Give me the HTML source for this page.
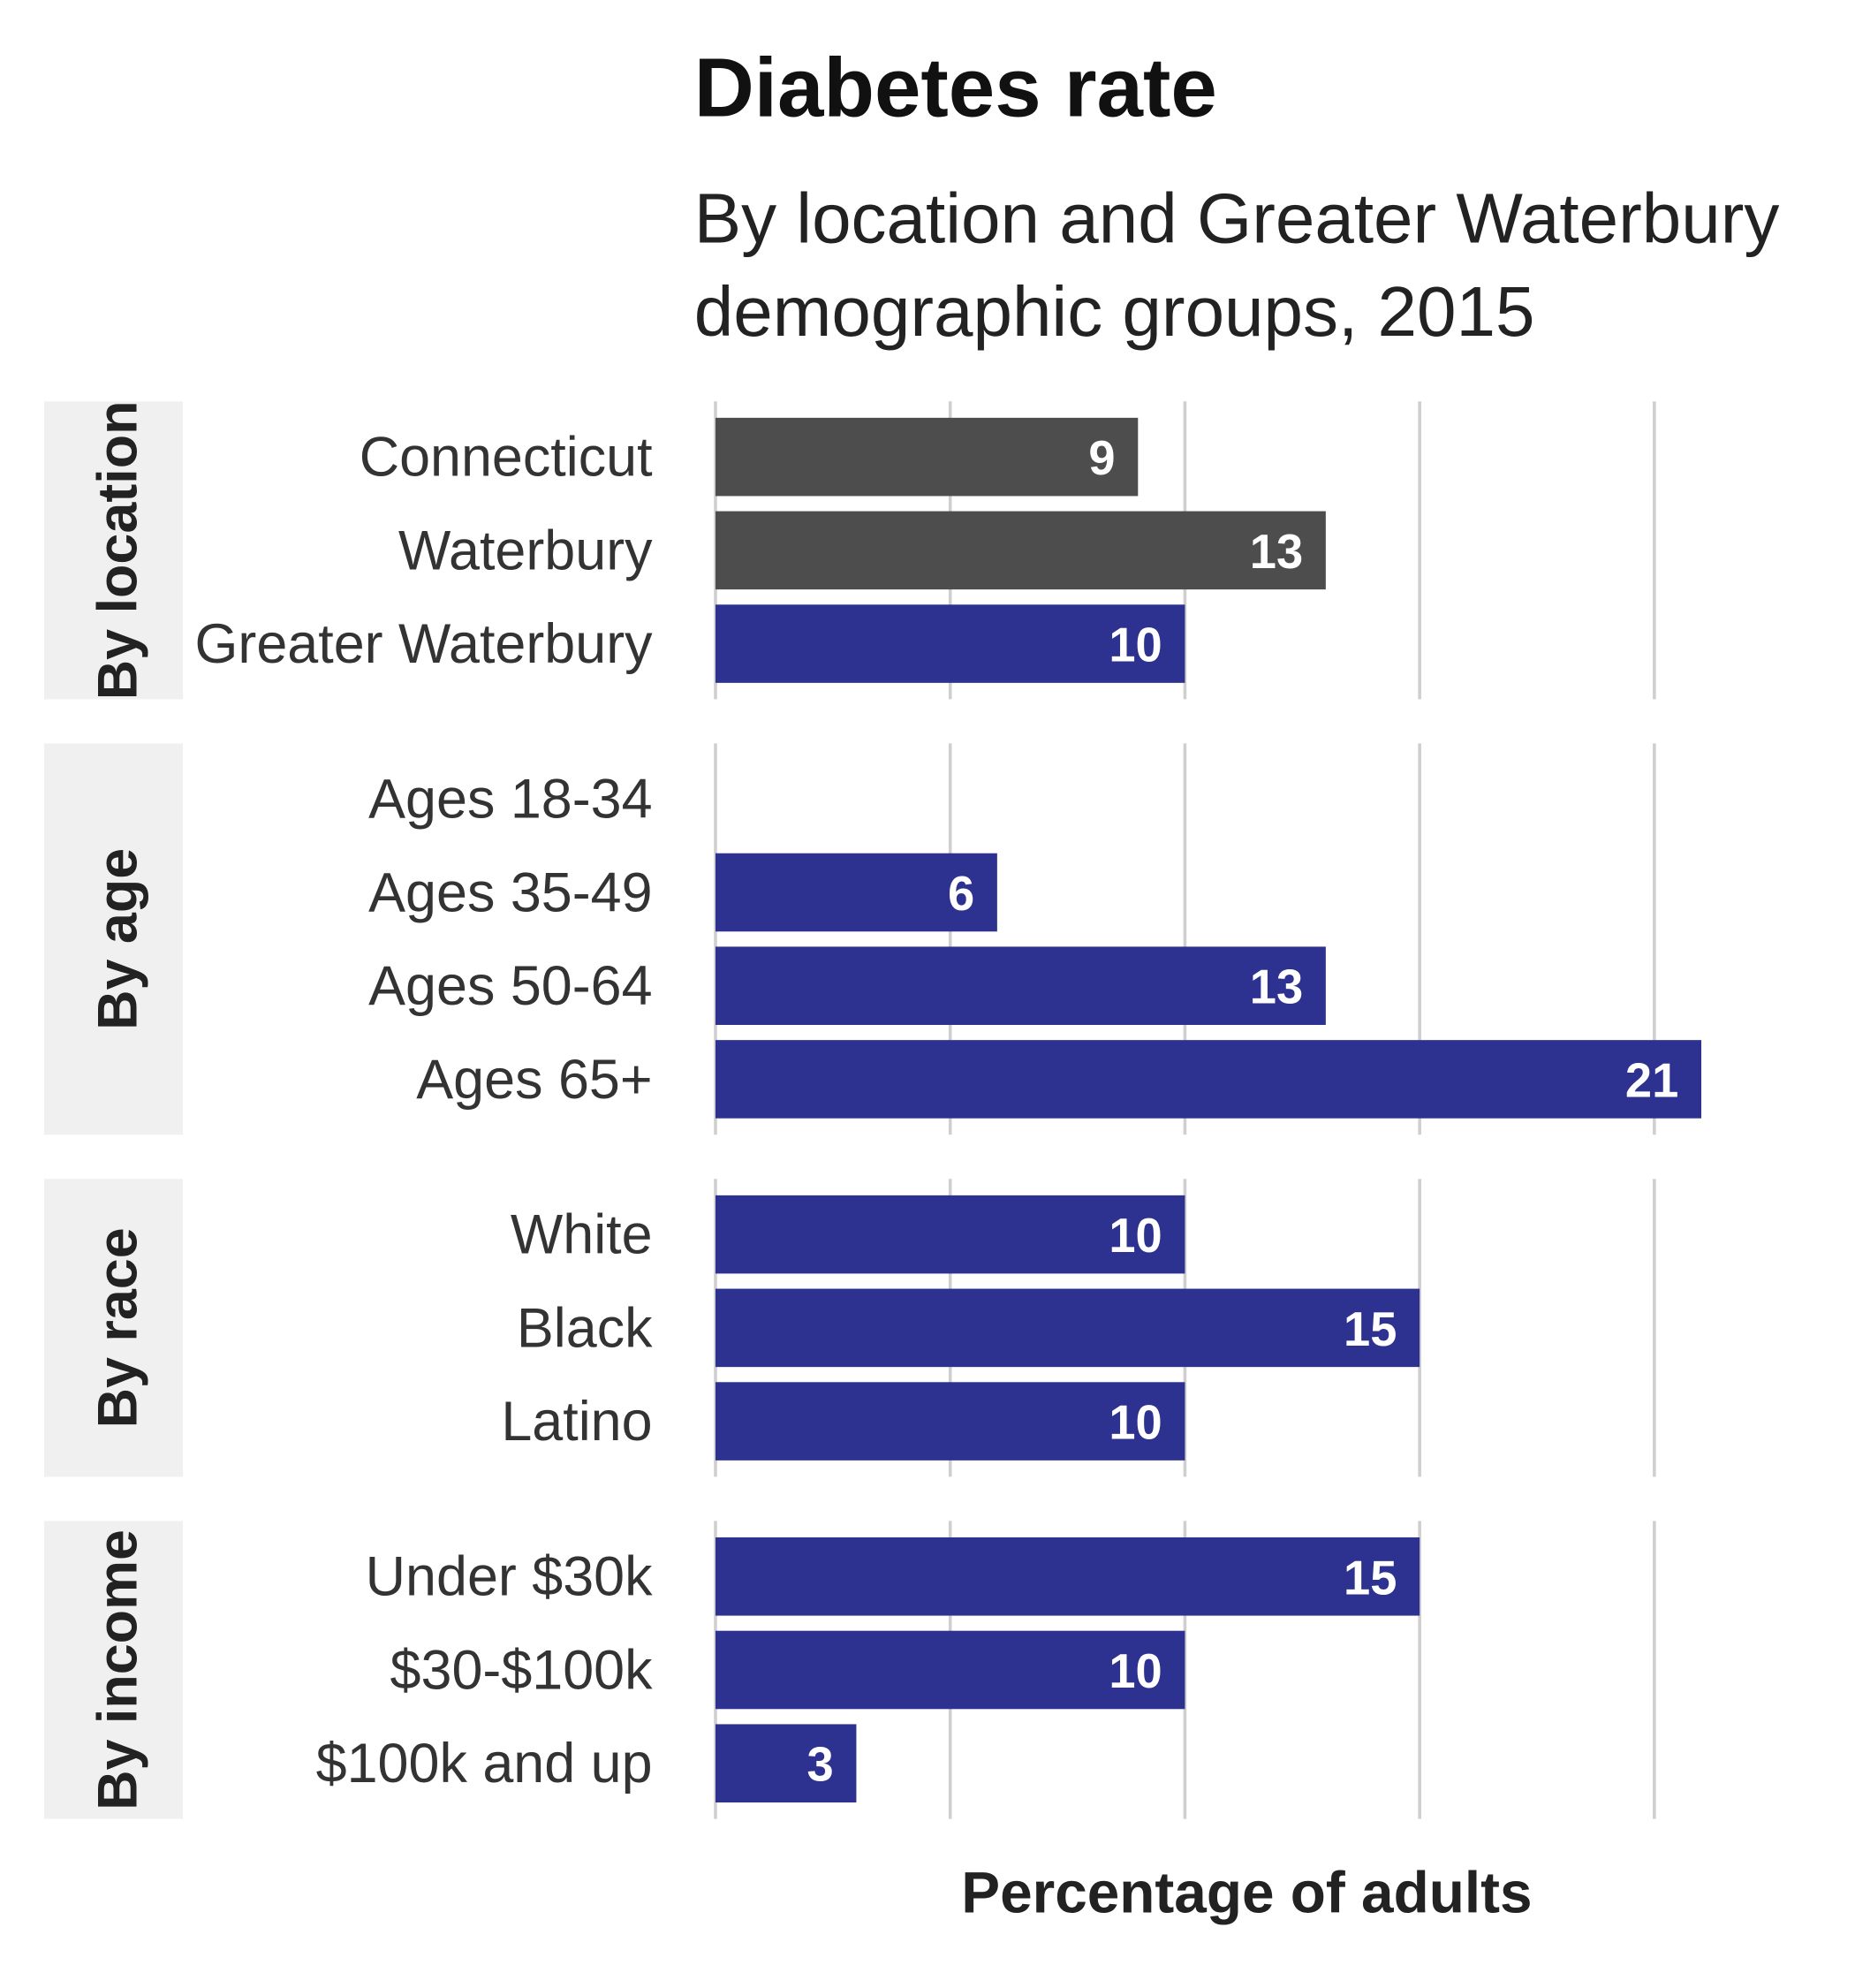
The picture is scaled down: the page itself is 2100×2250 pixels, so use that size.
<!DOCTYPE html>
<html><head><meta charset="utf-8"><style>
html,body{margin:0;padding:0;background:#fff;overflow:hidden;width:2100px;height:2250px;}
svg{display:block;}
text{font-family:"Liberation Sans Narrow","Liberation Sans",sans-serif;}
</style></head><body>
<svg id="chart" width="2100" height="2250" viewBox="0 0 1470 1575" xmlns="http://www.w3.org/2000/svg">
<text x="550" y="92" font-size="66" font-weight="bold" fill="#111">Diabetes rate</text>
<text x="550" y="192" font-size="56" fill="#222">By location and Greater Waterbury</text>
<text x="550" y="266" font-size="56" fill="#222">demographic groups, 2015</text>
<g id="plot"></g>
<text x="988" y="1515" font-size="46" font-weight="bold" fill="#222" text-anchor="middle">Percentage of adults</text>
</svg>
<script>
const panels = ["By location","By age","By race","By income"];
const categories = [
  ["Connecticut","Waterbury","Greater Waterbury"],
  ["Ages 18-34","Ages 35-49","Ages 50-64","Ages 65+"],
  ["White","Black","Latino"],
  ["Under $30k","$30-$100k","$100k and up"]
];
const values = [
  [9,13,10],
  [null,6,13,21],
  [10,15,10],
  [15,10,3]
];
const isGray = [[true,true,false],[false,false,false,false],[false,false,false],[false,false,false]];
const ticks = [0,5,10,15,20];

const ns="http://www.w3.org/2000/svg";
const plotG=document.getElementById('plot');
const x0=567, unit=37.2;
const xs=v=>x0+v*unit;
const step=74, barH=62, pad=13;
let yTop=318;
function mk(tag,attrs){const e=document.createElementNS(ns,tag);for(const k in attrs)e.setAttribute(k,attrs[k]);plotG.appendChild(e);return e;}
panels.forEach((p,pi)=>{
  const n=categories[pi].length;
  const h=pad*2+n*step-12;
  const strip=mk('rect',{x:35,y:yTop,width:110,height:h,fill:'#f0f0f0'});
  
  
  const st=mk('text',{x:0,y:0,'font-size':44,'font-weight':'bold',fill:'#222','text-anchor':'middle',transform:`translate(108,${yTop+h/2}) rotate(-90)`});
  st.textContent=p;
  
  
  ticks.forEach(t=>{
    const l=mk('line',{x1:xs(t),x2:xs(t),y1:yTop,y2:yTop+h,stroke:'#cfcfcf','stroke-width':2.5});
    
    
  });
  categories[pi].forEach((c,ci)=>{
    const y=yTop+pad+ci*step;
    const lab=mk('text',{x:517,y:y+barH/2+15,'font-size':44,fill:'#333','text-anchor':'end'});
    lab.textContent=c;
    
    
    const v=values[pi][ci];
    if(v==null)return;
    const r=mk('rect',{x:xs(0),y:y,width:xs(v)-xs(0),height:barH,fill:isGray[pi][ci]?'#4d4d4d':'#2d3190'});
    
    
    const vt=mk('text',{x:xs(v)-18,y:y+barH/2+14,'font-size':38,'font-weight':'bold',fill:'#fff','text-anchor':'end'});
    vt.textContent=v;
    
    
  });
  yTop+=h+35;
});
</script>
</body></html>
